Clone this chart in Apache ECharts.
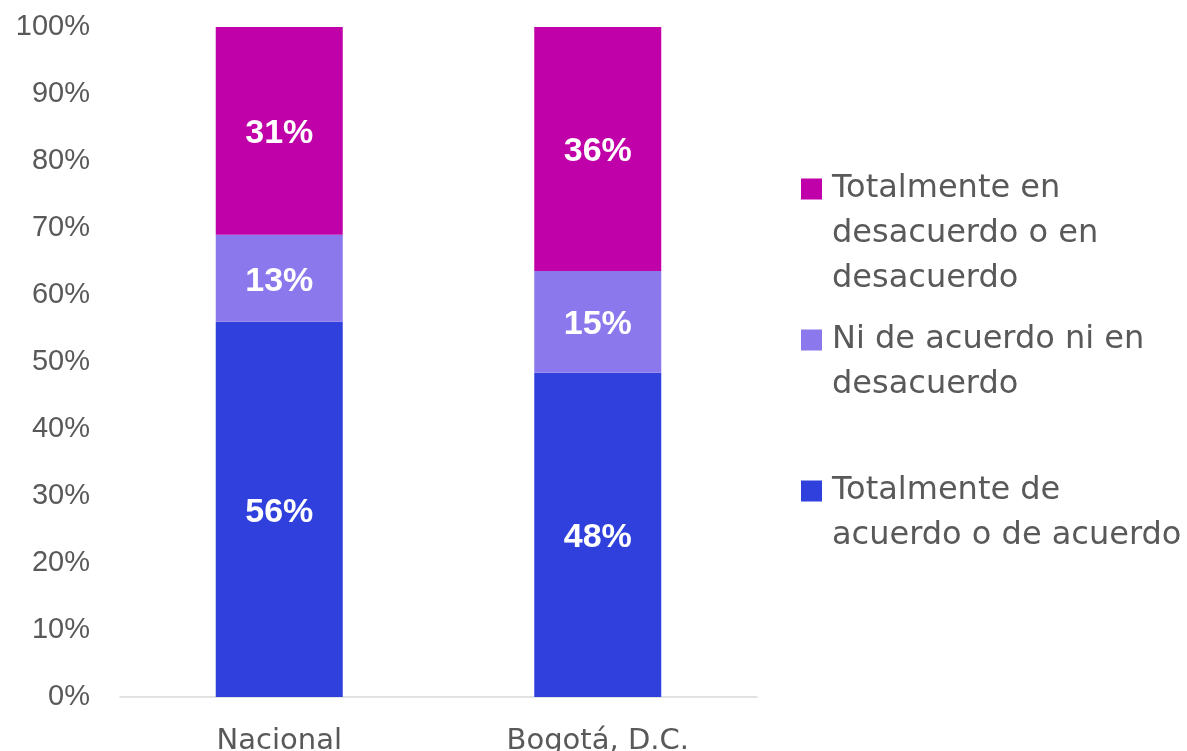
<!DOCTYPE html>
<html>
<head>
<meta charset="utf-8">
<script src="https://cdn.jsdelivr.net/npm/echarts@6/dist/echarts.min.js"></script>
<style>
  html, body { margin: 0; padding: 0; background: #fff; }
  #chart { width: 1187px; height: 751px; }
</style>
</head>
<body>
<div id="chart"></div>
<script>
// datos
const categories = ['Nacional', 'Bogotá, D.C.'];
const seriesNames = [
    'Totalmente de acuerdo o de acuerdo',
    'Ni de acuerdo ni en desacuerdo',
    'Totalmente en desacuerdo o en desacuerdo'
];
const legendLines = [
    ['Totalmente de', 'acuerdo o de acuerdo'],
    ['Ni de acuerdo ni en', 'desacuerdo'],
    ['Totalmente en', 'desacuerdo o en', 'desacuerdo']
];
const acuerdo = [56, 48.4];
const neutral = [13, 15.2];
const desacuerdo = [31, 36.4];

const colors = ['#3040DD', '#8B78EC', '#C000A8'];
const font = '"Liberation Sans", Arial, sans-serif';
const wideFont = '"DejaVu Sans", sans-serif';
const LINE_H = 45;

const chart = echarts.init(document.getElementById('chart'));

// one legend per item; blank lines on top keep the marker on the first text line
const legendFirstLine = [491, 340, 189];
const legends = seriesNames.map((name, i) => {
    const n = legendLines[i].length;
    const pad = new Array(n - 1).fill('').join('\n');
    return {
        data: [name],
        orient: 'vertical',
        left: 801,
        top: legendFirstLine[i] - (2 * n - 1) * LINE_H / 2,
        padding: 0,
        itemWidth: 21,
        itemHeight: 21,
        itemGap: 0,
        icon: 'rect',
        selectedMode: false,
        formatter: () => (n > 1 ? pad + '\n' : '') + legendLines[i].join('\n'),
        textStyle: {
            fontFamily: wideFont,
            fontSize: 32,
            lineHeight: LINE_H,
            color: '#595959',
            padding: [0, 0, 0, 5]
        }
    };
});

const seriesData = [acuerdo, neutral, desacuerdo];

chart.setOption({
    backgroundColor: '#FFFFFF',
    animation: false,
    legend: legends,
    grid: {
        left: 120,
        right: 430,
        top: 27,
        bottom: 54,
        outerBoundsMode: 'none'
    },
    xAxis: {
        type: 'category',
        data: categories,
        axisLine: { lineStyle: { color: '#D9D9D9', width: 1.5 } },
        axisTick: { show: false },
        axisLabel: {
            margin: 30,
            fontFamily: wideFont,
            fontSize: 29,
            color: '#595959'
        }
    },
    yAxis: {
        type: 'value',
        min: 0,
        max: 100,
        interval: 10,
        axisLine: { show: false },
        axisTick: { show: false },
        splitLine: { show: false },
        axisLabel: {
            margin: 30,
            fontFamily: font,
            fontSize: 29,
            color: '#595959',
            formatter: '{value}%'
        }
    },
    series: seriesNames.map((name, i) => ({
        name: name,
        type: 'bar',
        stack: 'total',
        barWidth: 127,
        itemStyle: { color: colors[i] },
        label: {
            show: true,
            position: 'inside',
            offset: [0, 3],
            formatter: p => Math.round(p.value) + '%',
            fontFamily: font,
            fontSize: 34,
            fontWeight: 'bold',
            color: '#FFFFFF'
        },
        data: seriesData[i]
    }))
});
</script>
</body>
</html>
